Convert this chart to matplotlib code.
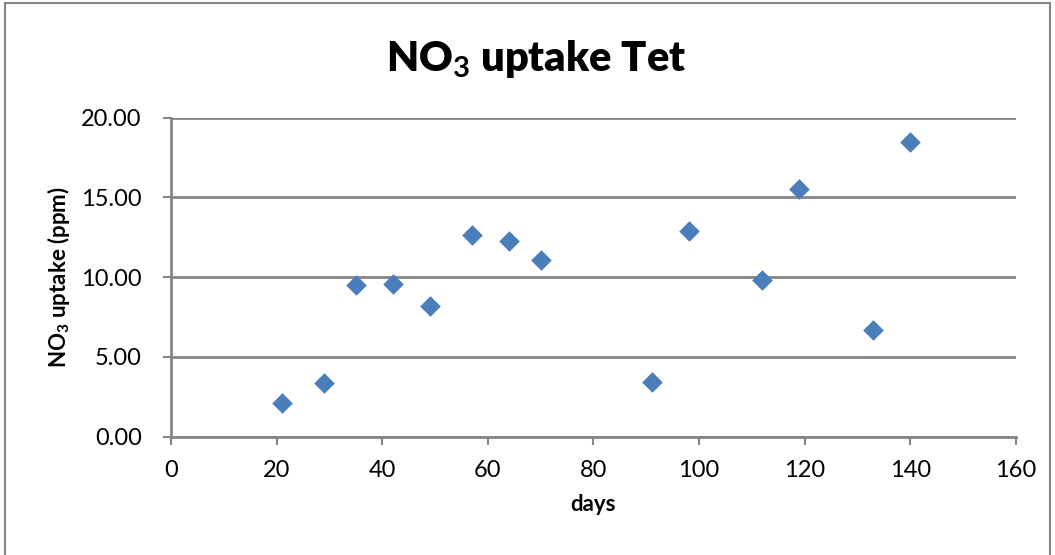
import matplotlib.pyplot as plt
from matplotlib.patches import Rectangle

# sampling days and nitrate uptake (ppm)
days = [21, 29, 35, 42, 49, 57, 64, 70, 91, 98, 112, 119, 133, 140]
uptake = [2.10, 3.35, 9.53, 9.57, 8.21, 12.67, 12.29, 11.08,
          3.44, 12.88, 9.84, 15.56, 6.70, 18.47]

x_ticks = [0, 20, 40, 60, 80, 100, 120, 140, 160]
y_ticks = [0, 5, 10, 15, 20]

plt.rcParams['font.family'] = ['Lato', 'DejaVu Sans']
plt.rcParams['mathtext.fontset'] = 'custom'
plt.rcParams['mathtext.rm'] = 'Lato'
plt.rcParams['mathtext.bf'] = 'Lato:bold'
grey = '#868686'

fig = plt.figure(figsize=(10.55, 5.55), dpi=100)
ax = fig.add_axes([0.1621, 0.2132, 0.8009, 0.5747])

# chart area border
fig.patches.append(Rectangle((5 / 1055, -0.05), 1045 / 1055, 1.05 - 3 / 555,
                             transform=fig.transFigure, fill=False,
                             edgecolor=grey, lw=1.5))

ax.scatter(days, uptake, marker='D', s=10.5 ** 2, color='#4a7ebb', zorder=3,
           linewidths=0)

ax.set_xlim(0, 160)
ax.set_ylim(0, 20)
ax.set_xticks(x_ticks)
ax.set_yticks(y_ticks)
ax.set_yticklabels([f'{v:.2f}' for v in y_ticks])
ax.tick_params(axis='both', labelsize=17, color=grey, width=1.5, length=6,
               direction='out')
ax.tick_params(axis='x', pad=11)
ax.tick_params(axis='y', pad=15)

ax.grid(axis='y', color=grey, lw=2)
ax.set_axisbelow(True)
for side in ['top', 'right']:
    ax.spines[side].set_visible(False)
for side in ['left', 'bottom']:
    ax.spines[side].set_color(grey)
    ax.spines[side].set_linewidth(2)

ax.set_xlabel('days', fontsize=16, fontweight='bold', labelpad=9)
ax.set_ylabel(r'NO$_\mathbf{3}$ uptake (ppm)', fontsize=16, fontweight='bold',
              labelpad=7)
fig.text(0.508, 0.893, r'NO$_\mathbf{3}$ uptake Tet', ha='center', va='center',
         fontsize=30, fontweight='heavy')

fig.savefig('out.png', dpi=100)
